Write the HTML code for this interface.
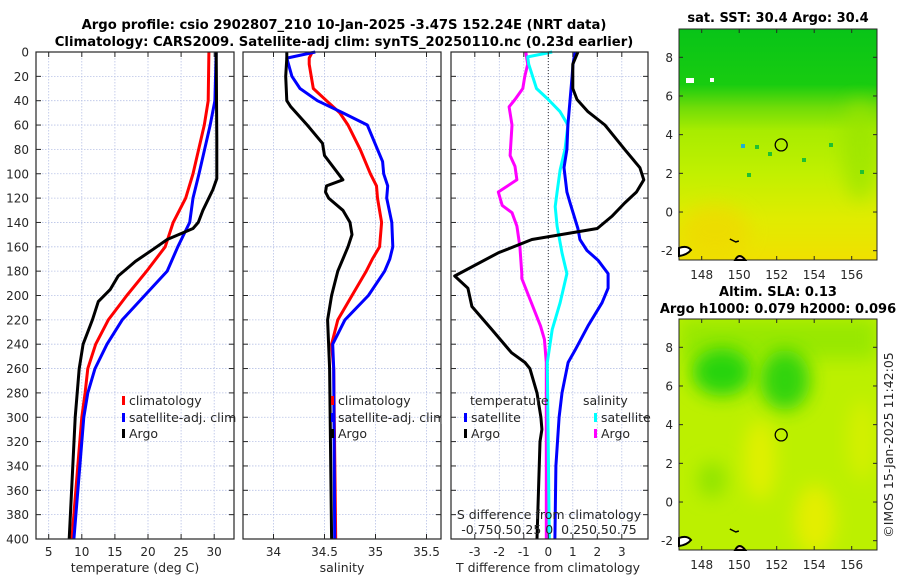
<!DOCTYPE html>
<html><head><meta charset="utf-8"><style>
html,body{margin:0;padding:0;background:#fff;}
svg{display:block;font-family:"DejaVu Sans","Liberation Sans",sans-serif;}
text{fill:#262626;}
</style></head><body>
<svg id="fig" width="900" height="580" viewBox="0 0 900 580" xmlns="http://www.w3.org/2000/svg">
<defs>
<linearGradient id="sstGrad" x1="0" y1="0" x2="0" y2="1">
<stop offset="0" stop-color="#08c418"/><stop offset="0.24" stop-color="#18cc10"/>
<stop offset="0.34" stop-color="#70dc08"/><stop offset="0.44" stop-color="#a8ec00"/>
<stop offset="0.62" stop-color="#c0f000"/><stop offset="0.82" stop-color="#e0ec00"/>
<stop offset="1" stop-color="#f0e000"/></linearGradient>
<filter id="blur" x="-50%" y="-50%" width="200%" height="200%"><feGaussianBlur stdDeviation="9"/></filter>
<clipPath id="clipTop"><rect x="679" y="29" width="198" height="231"/></clipPath>
<clipPath id="clipBot"><rect x="679" y="319" width="198" height="231"/></clipPath>
</defs>
<g id="titles">
<text x="344" y="29" text-anchor="middle" font-size="13.2" font-weight="bold" style="fill:#000">Argo profile: csio 2902807_210 10-Jan-2025 -3.47S 152.24E (NRT data)</text>
<text x="344" y="46" text-anchor="middle" font-size="13.2" font-weight="bold" style="fill:#000">Climatology: CARS2009. Satellite-adj clim: synTS_20250110.nc (0.23d earlier)</text>
</g>
<g id="panels"></g>
<g id="maps"></g>
</svg>
<script>
// ---------------- data ----------------
const depthTicks=[0,20,40,60,80,100,120,140,160,180,200,220,240,260,280,300,320,340,360,380,400];
const tempTicks=[5,10,15,20,25,30];
const salTicks=[34,34.5,35,35.5];
const salTickLabels=["34","34.5","35","35.5"];
const tdiffTicks=[-3,-2,-1,0,1,2,3];
const sdiffLabels="-0.750.50.25 0  0.250.50.75";

const tClimDepth=[0,40,60,100,120,140,160,180,200,220,240,260,280,300,340,400];
const tClimVal=[29.2,29.1,28.5,26.8,25.7,23.8,22.6,19.8,16.8,14.0,12.1,10.9,10.5,10.0,9.4,8.5];
const tSatDepth=[0,40,60,100,120,140,160,180,200,220,240,260,280,300,400];
const tSatVal=[30.3,30.1,29.4,27.7,26.8,26.3,24.5,22.9,19.5,16.1,13.8,12.0,10.9,10.3,8.8];
const tArgoDepth=[0,72,104,113,130,140,145,154,162,172,184,195,205,220,240,260,300,400];
const tArgoVal=[30.3,30.4,30.4,29.8,28.3,27.6,26.8,22.9,20.8,18.1,15.5,14.3,12.5,11.6,10.2,9.6,9.0,8.1];

const sClimDepth=[0,5,10,30,40,50,60,80,100,110,120,140,160,170,180,200,220,240,260,400];
const sClimVal=[34.38,34.35,34.35,34.39,34.52,34.65,34.73,34.85,34.95,35.01,35.02,35.06,35.04,34.97,34.91,34.77,34.63,34.57,34.59,34.61];
const sSatDepth=[0,5,20,30,40,50,60,80,90,100,110,120,140,160,170,180,200,220,240,260,400];
const sSatVal=[34.41,34.13,34.18,34.26,34.43,34.68,34.92,35.02,35.07,35.08,35.12,35.11,35.16,35.17,35.14,35.09,34.93,34.70,34.58,34.59,34.60];
const sArgoDepth=[0,5,20,40,45,60,75,85,105,110,115,120,130,140,150,160,170,180,190,200,220,240,260,400];
const sArgoVal=[34.13,34.13,34.12,34.13,34.17,34.33,34.48,34.50,34.68,34.52,34.51,34.54,34.68,34.75,34.77,34.73,34.68,34.63,34.60,34.57,34.53,34.54,34.55,34.57];

const dTArgoDepth=[0,10,30,39,49,60,80,95,105,115,124,135,145,154,165,184,194,209,228,247,255,260,280,300,310,320,400];
const dTArgoVal=[1.21,1.0,1.0,1.17,1.62,2.31,3.12,3.74,3.9,3.6,3.12,2.59,2.0,-0.67,-2.05,-3.82,-3.28,-3.12,-2.3,-1.5,-0.95,-0.75,-0.46,-0.3,-0.26,-0.34,-0.46];
const dTSatDepth=[0,10,20,39,60,80,95,115,124,145,154,163,171,182,194,206,225,245,255,280,300,340,400];
const dTSatVal=[1.09,1.01,0.97,0.89,0.8,0.76,0.64,0.76,0.89,1.21,1.29,1.58,2.03,2.44,2.44,2.19,1.62,1.09,0.81,0.56,0.44,0.31,0.27];
const dSArgoDepth=[0,10,20,30,39,45,60,85,94,105,115,126,132,143,160,182,186,225,236,255,400];
const dSArgoVal=[-0.23,-0.21,-0.24,-0.26,-0.34,-0.40,-0.37,-0.39,-0.34,-0.32,-0.51,-0.47,-0.37,-0.32,-0.29,-0.27,-0.27,-0.08,-0.04,-0.02,-0.02];
const dSSatDepth=[0,4,10,30,39,49,60,80,97,115,127,143,165,182,206,228,255,400];
const dSSatVal=[0.04,-0.21,-0.2,-0.12,0,0.12,0.2,0.17,0.12,0.09,0.07,0.09,0.14,0.19,0.12,0.04,-0.01,0.01];

const latTicks=[8,6,4,2,0,-2];
const lonTicks=[148,150,152,154,156];
const argoLon=[152.24];
const argoLat=[3.47];

// ---------------- helpers ----------------
const NS="http://www.w3.org/2000/svg";
function mk(tag,attrs,parent){const e=document.createElementNS(NS,tag);for(const k in attrs)e.setAttribute(k,attrs[k]);parent.appendChild(e);return e;}
const Y0=52,Y1=539;
const yD=d=>Y0+(d/400)*(Y1-Y0);
const panelsG=document.getElementById('panels');
const P1={x0:36,x1:234},P2={x0:243,x1:441},P3={x0:451,x1:648};
const xT=v=>48.7+(v-5)*6.62;
const xS=v=>273.5+(v-34)*102;
const xDT=v=>548.3+v*24.5;
const xDS=v=>548.3+v*98;

function frame(P,name,ticksX,xf){
  const g=mk('g',{},panelsG);
  
  
  depthTicks.forEach(d=>{const l=mk('line',{x1:P.x0,x2:P.x1,y1:yD(d),y2:yD(d),stroke:'#b8c2e6','stroke-width':0.8,'stroke-dasharray':'1.5 1.5'},g);
    });
  ticksX.forEach(v=>{const l=mk('line',{x1:xf(v),x2:xf(v),y1:Y0,y2:Y1,stroke:'#b8c2e6','stroke-width':0.8,'stroke-dasharray':'1.5 1.5'},g);
    });
  return g;
}
function axesBox(P,g,ticksX,xf){
  const r=mk('rect',{x:P.x0,y:Y0,width:P.x1-P.x0,height:Y1-Y0,fill:'none',stroke:'#262626','stroke-width':1.2},g);
  
  depthTicks.forEach(d=>{const y=yD(d);
    mk('line',{x1:P.x0,x2:P.x0+5,y1:y,y2:y,stroke:'#262626','stroke-width':1},g);
    mk('line',{x1:P.x1-5,x2:P.x1,y1:y,y2:y,stroke:'#262626','stroke-width':1},g);});
  ticksX.forEach(v=>{const x=xf(v);
    mk('line',{x1:x,x2:x,y1:Y1-5,y2:Y1,stroke:'#262626','stroke-width':1},g);
    mk('line',{x1:x,x2:x,y1:Y0,y2:Y0+5,stroke:'#262626','stroke-width':1},g);});
}
function series(g,depths,vals,xf,color,name){
  const pts=depths.map((d,i)=>xf(vals[i]).toFixed(1)+','+yD(d).toFixed(1)).join(' ');
  const p=mk('polyline',{points:pts,fill:'none',stroke:color,'stroke-width':3,'stroke-linejoin':'round'},g);
  
  
}
function txt(g,x,y,s,opts,name){
  const t=mk('text',Object.assign({x:x,y:y,'font-size':12},opts||{}),g);
  t.textContent=s;
  
  
  return t;
}
function legendItem(g,x,y,color,label,name){
  const b=mk('rect',{x:x,y:y-9,width:3,height:9,fill:color},g);
  
  txt(g,x+7,y,label,{'font-size':12.5},name+'-label');
}

// ---------------- panel 1: temperature ----------------
let g1=frame(P1,'temperature-panel',tempTicks,xT);
series(g1,tClimDepth,tClimVal,xT,'#ff0000','temp-climatology-line');
series(g1,tSatDepth,tSatVal,xT,'#0000ff','temp-satellite-line');
series(g1,tArgoDepth,tArgoVal,xT,'#000000','temp-argo-line');
axesBox(P1,g1,tempTicks,xT);
depthTicks.forEach(d=>txt(g1,29,yD(d)+4.5,String(d),{'text-anchor':'end'},'depth-tick-label'));
tempTicks.forEach(v=>txt(g1,xT(v),556,String(v),{'text-anchor':'middle'},'temp-tick-label'));
txt(g1,135,572,'temperature (deg C)',{'text-anchor':'middle','font-size':12.5},'x-axis-title-temperature');
legendItem(g1,122,405,'#ff0000','climatology','legend-climatology');
legendItem(g1,122,422,'#0000ff','satellite-adj. clim','legend-satellite');
legendItem(g1,122,438,'#000000','Argo','legend-argo');

// ---------------- panel 2: salinity ----------------
let g2=frame(P2,'salinity-panel',salTicks,xS);
series(g2,sClimDepth,sClimVal,xS,'#ff0000','sal-climatology-line');
series(g2,sSatDepth,sSatVal,xS,'#0000ff','sal-satellite-line');
series(g2,sArgoDepth,sArgoVal,xS,'#000000','sal-argo-line');
legendItem(g2,331,405,'#ff0000','climatology','legend-sal-climatology');
legendItem(g2,331,422,'#0000ff','satellite-adj. clim','legend-sal-satellite');
legendItem(g2,331,438,'#000000','Argo','legend-sal-argo');
axesBox(P2,g2,salTicks,xS);
salTicks.forEach((v,i)=>txt(g2,xS(v),556,salTickLabels[i],{'text-anchor':'middle'},'sal-tick-label'));
txt(g2,342,572,'salinity',{'text-anchor':'middle','font-size':12.5},'x-axis-title-salinity');
mk('rect',{x:441.6,y:410,width:9,height:14,fill:'#fff'},panelsG);

// ---------------- panel 3: differences ----------------
let g3=frame(P3,'difference-panel',tdiffTicks,xDT);
const zl=mk('line',{x1:xDT(0),x2:xDT(0),y1:Y0,y2:Y1,stroke:'#333','stroke-width':1,'stroke-dasharray':'1 2'},g3);

series(g3,dSArgoDepth,dSArgoVal,xDS,'#ff00ff','sdiff-argo-line');
series(g3,dSSatDepth,dSSatVal,xDS,'#00ffff','sdiff-satellite-line');
series(g3,dTSatDepth,dTSatVal,xDT,'#0000ff','tdiff-satellite-line');
series(g3,dTArgoDepth,dTArgoVal,xDT,'#000000','tdiff-argo-line');
axesBox(P3,g3,tdiffTicks,xDT);
txt(g3,470,405,'temperature',{'font-size':12.5},'legend-title-temperature');
txt(g3,583,405,'salinity',{'font-size':12.5},'legend-title-salinity');
legendItem(g3,464,422,'#0000ff','satellite','legend-tdiff-satellite');
legendItem(g3,464,438,'#000000','Argo','legend-tdiff-argo');
legendItem(g3,594,422,'#00ffff','satellite','legend-sdiff-satellite');
legendItem(g3,594,438,'#ff00ff','Argo','legend-sdiff-argo');
txt(g3,549,519,'S difference from climatology',{'text-anchor':'middle','font-size':12.5},'sdiff-axis-title');
txt(g3,549,534,sdiffLabels,{'text-anchor':'middle','font-size':12.5,'xml:space':'preserve',style:'white-space:pre'},'sdiff-tick-labels');
tdiffTicks.forEach(v=>txt(g3,xDT(v),556,String(v),{'text-anchor':'middle'},'tdiff-tick-label'));
txt(g3,548,572,'T difference from climatology',{'text-anchor':'middle','font-size':12.5},'x-axis-title-tdiff');

// ---------------- maps ----------------
const mapsG=document.getElementById('maps');
const lonX=l=>701.7+(l-148)*18.75;
const latY=(la,off)=>57.3-(la-8)*19.34+off;
function mapAxes(g,off,name){
  const r=mk('rect',{x:679,y:29+off,width:198,height:231,fill:'none',stroke:'#262626','stroke-width':1},g);
  
  latTicks.forEach(la=>{const y=latY(la,off);
    mk('line',{x1:679,x2:683,y1:y,y2:y,stroke:'#262626'},g);
    mk('line',{x1:873,x2:877,y1:y,y2:y,stroke:'#262626'},g);
    txt(g,673,y+4.5,String(la),{'text-anchor':'end'},'lat-tick-label');});
  lonTicks.forEach(lo=>{const x=lonX(lo);
    mk('line',{x1:x,x2:x,y1:256+off,y2:260+off,stroke:'#262626'},g);
    mk('line',{x1:x,x2:x,y1:29+off,y2:33+off,stroke:'#262626'},g);
    txt(g,x,279+off,String(lo),{'text-anchor':'middle'},'lon-tick-label');});
  const c=mk('circle',{cx:lonX(argoLon[0]),cy:latY(argoLat[0],off),r:6,fill:'none',stroke:'#000','stroke-width':1.3},g);
  
  mk('path',{d:`M679 ${248+off} q8 -3 12 2 q-4 5 -12 6 z`,fill:'#fff',stroke:'#000','stroke-width':2},g);
  mk('path',{d:`M${lonX(150)-4} ${260+off} q4 -8 10 0 z`,fill:'#f4c8a0',stroke:'#000','stroke-width':2},g);
  mk('path',{d:`M${lonX(149.5)} ${239+off} l6 3 l3 -1`,fill:'none',stroke:'#000','stroke-width':1.5},g);
}
const gm1=mk('g',{'clip-path':'url(#clipTop)'},mapsG);

mk('rect',{x:679,y:29,width:198,height:231,fill:'url(#sstGrad)'},gm1);
mk('ellipse',{cx:715,cy:230,rx:35,ry:25,fill:'#f0d800',opacity:0.7,filter:'url(#blur)'},gm1);
mk('ellipse',{cx:860,cy:150,rx:18,ry:50,fill:'#98e400',opacity:0.7,filter:'url(#blur)'},gm1);
mk('rect',{x:686,y:78,width:8,height:5,fill:'#fff'},gm1);
mk('rect',{x:710,y:78,width:4,height:4,fill:'#fff'},gm1);
[[755,145],[768,152],[802,158],[747,173],[829,143],[860,170]].forEach(p=>mk('rect',{x:p[0],y:p[1],width:4,height:4,fill:'#20c030'},gm1));
mk('rect',{x:741,y:144,width:4,height:4,fill:'#20b0d0'},gm1);
const gmf1=mk('g',{},mapsG);
mapAxes(gmf1,0,'sst-map');
txt(mapsG,778,22,'sat. SST: 30.4 Argo: 30.4',{'text-anchor':'middle','font-size':13,'font-weight':'bold',style:'fill:#000'},'sst-map-title');

const gm2=mk('g',{'clip-path':'url(#clipBot)'},mapsG);

mk('rect',{x:679,y:319,width:198,height:231,fill:'#bcf000'},gm2);
mk('rect',{x:679,y:319,width:198,height:40,fill:'#98e800',filter:'url(#blur)'},gm2);
mk('ellipse',{cx:722,cy:372,rx:30,ry:24,fill:'#28d410',filter:'url(#blur)'},gm2);
mk('ellipse',{cx:785,cy:380,rx:25,ry:30,fill:'#30d410',filter:'url(#blur)'},gm2);
mk('ellipse',{cx:712,cy:480,rx:14,ry:18,fill:'#90e400',filter:'url(#blur)'},gm2);
mk('ellipse',{cx:760,cy:460,rx:16,ry:40,fill:'#e0f000',filter:'url(#blur)'},gm2);
mk('ellipse',{cx:815,cy:520,rx:20,ry:35,fill:'#e4ee00',filter:'url(#blur)'},gm2);
mk('ellipse',{cx:862,cy:440,rx:14,ry:40,fill:'#d4f000',filter:'url(#blur)'},gm2);
const gmf2=mk('g',{},mapsG);
mapAxes(gmf2,290,'sla-map');
txt(mapsG,778,296,'Altim. SLA: 0.13',{'text-anchor':'middle','font-size':13,'font-weight':'bold',style:'fill:#000'},'sla-map-title-line-1');
txt(mapsG,778,313,'Argo h1000: 0.079 h2000: 0.096',{'text-anchor':'middle','font-size':13,'font-weight':'bold',style:'fill:#000'},'sla-map-title-line-2');
txt(mapsG,893,445,'©IMOS 15-Jan-2025 11:42:05',{'text-anchor':'middle','font-size':12.5,transform:'rotate(-90 893 445)'},'timestamp-credit');
</script>
</body></html>
